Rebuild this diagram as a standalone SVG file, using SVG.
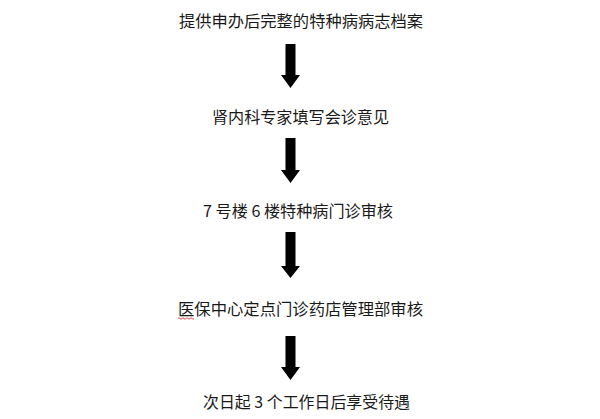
<svg xmlns="http://www.w3.org/2000/svg" width="600" height="419" viewBox="0 0 600 419">
<style>
.t{font-family:"Noto Sans CJK SC","Microsoft YaHei",sans-serif;font-size:16px;fill:#1a1a1a}
.a{fill:#000}
</style>
<defs>
<polygon id="arr" points="-5,0 5,0 5,31 9.5,31 0,44 -9.5,31 -5,31"/>
</defs>
<rect width="600" height="419" fill="#fff"/>
<g id="n1"><text class="t" x="179" y="27" textLength="244" lengthAdjust="spacingAndGlyphs">提供申办后完整的特种病病志档案</text></g>
<g id="n2"><text class="t" x="212" y="123" textLength="177" lengthAdjust="spacingAndGlyphs">肾内科专家填写会诊意见</text></g>
<g id="n3"><text class="t" x="203" y="217" textLength="190" lengthAdjust="spacingAndGlyphs">7 号楼 6 楼特种病门诊审核</text></g>
<g id="n4"><text class="t" x="178" y="315" textLength="245" lengthAdjust="spacingAndGlyphs">医保中心定点门诊药店管理部审核</text>
<path d="M178,318.5 q1,-1.5 2,0 t2,0 t2,0 t2,0 t2,0 t2,0 t2,0 t2,0" fill="none" stroke="#d33" stroke-width="0.9"/></g>
<g id="n5"><text class="t" x="203" y="408" textLength="207" lengthAdjust="spacingAndGlyphs">次日起 3 个工作日后享受待遇</text></g>
<g id="connectors">
<polygon class="a" points="285.5,44 295.5,44 295.5,75 300,75 290.5,88 281,75 285.5,75"/>
<polygon class="a" points="285.5,138 295.5,138 295.5,170 300,170 290.5,183 281,170 285.5,170"/>
<polygon class="a" points="285.5,232 295.5,232 295.5,266 300,266 290.5,278 281,266 285.5,266"/>
<polygon class="a" points="285.5,336 295.5,336 295.5,367 300,367 290.5,380 281,367 285.5,367"/>
</g>
</svg>
